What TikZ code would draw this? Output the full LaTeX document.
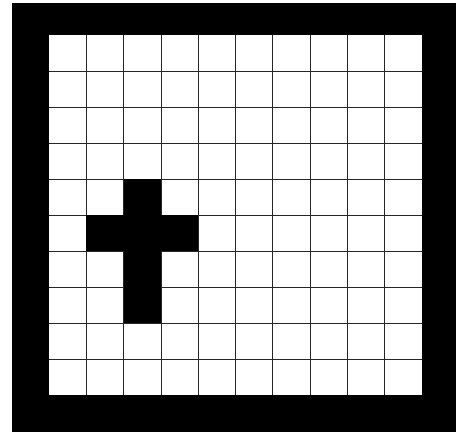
\documentclass[tikz,border=0pt]{standalone}
\usepackage{tikz}
\tikzset{gridline/.style={black!85, line width=0.8pt}}
\begin{document}
\begin{tikzpicture}[x=37.3pt, y=-36pt]

% Page area
\useasboundingbox (-1.314,-0.972) rectangle (11.019,11.194);
\fill[white] (-1.314,-0.972) rectangle (11.019,11.194);

% Thick black frame
\fill[black] (-0.99,-0.89) rectangle (10.91,11.03);
\fill[white] (0,0) rectangle (10,10);

% Grid 10 x 10
\foreach \i in {1,...,9} {
    \draw[gridline] (\i,0) -- (\i,10);
    \draw[gridline] (0,\i) -- (10,\i);
}

% Cross
\fill[black] (2,4) rectangle (3,8);
\fill[black] (1,5) rectangle (4,6);

\end{tikzpicture}
\end{document}
